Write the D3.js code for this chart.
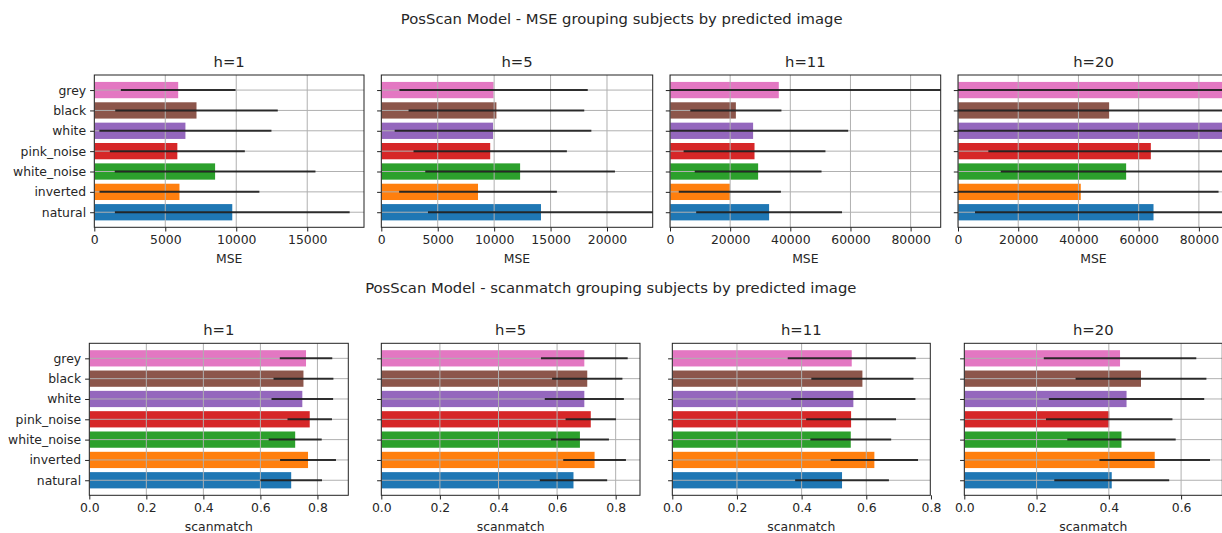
<!DOCTYPE html>
<html>
<head>
<meta charset="utf-8">
<script src="https://cdn.jsdelivr.net/npm/d3@7"></script>
<style>
  html, body { margin: 0; padding: 0; background: #fff; overflow: hidden; }
  svg { display: block; }
  text { font-family: "DejaVu Sans", sans-serif; fill: #262626; }
</style>
</head>
<body>
<svg id="chart" width="1222" height="533"></svg>
<script>
// Stimulus categories, bottom to top
const categories = ["natural", "inverted", "white_noise", "pink_noise", "white", "black", "grey"];
const categoryColors = ["#1f77b4", "#ff7f0e", "#2ca02c", "#d62728", "#9467bd", "#8c564b", "#e377c2"];
const horizons = ["h=1", "h=5", "h=11", "h=20"];

// MSE: mean and standard deviation per category
const mseMeanH1  = [9720, 6000, 8510, 5850, 6420, 7200, 5910];
const mseStdH1   = [8270, 5630, 7070, 4755, 6060, 5725, 4040];
const mseMeanH5  = [14150, 8570, 12300, 9650, 9900, 10200, 9950];
const mseStdH5   = [10015, 6990, 8405, 6795, 8715, 7785, 8345];
const mseMeanH11 = [32950, 19900, 29300, 28100, 27630, 21900, 36170];
const mseStdH11  = [24245, 16980, 21080, 23580, 31620, 15150, 56000];
const mseMeanH20 = [64930, 40770, 55840, 64040, 93000, 50190, 92000];
const mseStdH20  = [59280, 45760, 41660, 53960, 98000, 55000, 97000];

// ScanMatch: mean and standard deviation per category
const smMeanH1  = [0.708, 0.767, 0.722, 0.773, 0.747, 0.751, 0.760];
const smStdH1   = [0.108, 0.098, 0.093, 0.078, 0.108, 0.105, 0.092];
const smMeanH5  = [0.656, 0.728, 0.678, 0.715, 0.693, 0.703, 0.693];
const smStdH5   = [0.115, 0.107, 0.099, 0.086, 0.135, 0.120, 0.148];
const smMeanH11 = [0.525, 0.625, 0.552, 0.553, 0.560, 0.588, 0.555];
const smStdH11  = [0.145, 0.135, 0.125, 0.139, 0.192, 0.158, 0.198];
const smMeanH20 = [0.408, 0.527, 0.435, 0.401, 0.449, 0.489, 0.431];
const smStdH20  = [0.159, 0.153, 0.150, 0.175, 0.215, 0.181, 0.211];

// Axis limits and ticks
const mseXMax = [19000, 24050, 90000, 90000];
const mseTicks = [
  [0, 5000, 10000, 15000],
  [0, 5000, 10000, 15000, 20000],
  [0, 20000, 40000, 60000, 80000],
  [0, 20000, 40000, 60000, 80000]
];
const smTicks = [
  [0, 0.2, 0.4, 0.6, 0.8],
  [0, 0.2, 0.4, 0.6, 0.8],
  [0, 0.2, 0.4, 0.6, 0.8],
  [0, 0.2, 0.4, 0.6]
];

const svg = d3.select("#chart");
const TICK_FONT = "12.4px";
const TITLE_FONT = "14.8px";

const rows = [
  {
    title: "PosScan Model - MSE grouping subjects by predicted image",
    titleX: 621.7, titleY: 24.3,
    xlabel: "MSE",
    means: [mseMeanH1, mseMeanH5, mseMeanH11, mseMeanH20],
    stds: [mseStdH1, mseStdH5, mseStdH11, mseStdH20],
    xmax: mseXMax,
    ticks: mseTicks,
    fmt: d3.format("d"),
    top: 75, height: 152.3,
    lefts: [94.3, 381.3, 670, 958],
    widths: [269.7, 271.4, 270.7, 271]
  },
  {
    title: "PosScan Model - scanmatch grouping subjects by predicted image",
    titleX: 610.8, titleY: 292.5,
    xlabel: "scanmatch",
    means: [smMeanH1, smMeanH5, smMeanH11, smMeanH20],
    stds: [smStdH1, smStdH5, smStdH11, smStdH20],
    xmax: null,
    ticks: smTicks,
    fmt: d3.format(".1f"),
    top: 343.3, height: 152,
    lefts: [89.3, 381.3, 672.3, 964.3],
    widths: [259, 258.7, 258, 258]
  }
];

const defs = svg.append("defs");

rows.forEach((row, r) => {
  svg.append("text")
    .attr("x", row.titleX).attr("y", row.titleY)
    .attr("text-anchor", "middle")
    .attr("font-size", TITLE_FONT)
    .text(row.title);

  horizons.forEach((hz, k) => {
    const means = row.means[k];
    const stds = row.stds[k];
    const w = row.widths[k], h = row.height;
    // autoscaled limits keep a 5% margin past the longest error bar
    const xMax = row.xmax ? row.xmax[k] : d3.max(means, (m, i) => m + stds[i]) * 1.05;
    const x = d3.scaleLinear().domain([0, xMax]).range([0, w]);
    const y = d3.scaleLinear().domain([-0.74, categories.length - 1 + 0.74]).range([h, 0]);

    const clipId = `clip-${r}-${k}`;
    defs.append("clipPath").attr("id", clipId)
      .append("rect").attr("x", 0).attr("y", 0).attr("width", w).attr("height", h);

    const g = svg.append("g").attr("transform", `translate(${row.lefts[k]},${row.top})`);
    const plot = g.append("g").attr("clip-path", `url(#${clipId})`);

    // bars
    plot.selectAll("rect.bar").data(categories).join("rect")
      .attr("class", "bar")
      .attr("x", x(0))
      .attr("y", (d, i) => y(i + 0.4))
      .attr("width", (d, i) => x(means[i]) - x(0))
      .attr("height", (d, i) => y(i - 0.4) - y(i + 0.4))
      .attr("fill", (d, i) => categoryColors[i]);

    // grid lines sit above the bars and below the error bars
    const grid = plot.append("g").attr("stroke", "#b0b0b0").attr("stroke-width", 1);
    grid.selectAll("line.gx").data(row.ticks[k]).join("line")
      .attr("x1", d => x(d)).attr("x2", d => x(d))
      .attr("y1", 0).attr("y2", h);
    grid.selectAll("line.gy").data(categories).join("line")
      .attr("x1", 0).attr("x2", w)
      .attr("y1", (d, i) => y(i)).attr("y2", (d, i) => y(i));

    // error bars (mean ± std)
    plot.selectAll("line.err").data(categories).join("line")
      .attr("class", "err")
      .attr("x1", (d, i) => x(means[i] - stds[i]))
      .attr("x2", (d, i) => x(means[i] + stds[i]))
      .attr("y1", (d, i) => y(i)).attr("y2", (d, i) => y(i))
      .attr("stroke", "#111").attr("stroke-opacity", 0.85)
      .attr("stroke-width", 2);

    // frame
    g.append("rect").attr("x", 0).attr("y", 0).attr("width", w).attr("height", h)
      .attr("fill", "none").attr("stroke", "#222").attr("stroke-width", 1);

    // x axis
    const xAxis = g.append("g").attr("transform", `translate(0,${h})`)
      .call(d3.axisBottom(x).tickValues(row.ticks[k]).tickFormat(row.fmt)
        .tickSize(4.2).tickPadding(4));
    xAxis.select(".domain").remove();
    xAxis.selectAll(".tick line").attr("stroke", "#222");
    xAxis.selectAll("text").attr("font-size", TICK_FONT).attr("font-family", "DejaVu Sans").attr("fill", "#262626");

    // y axis: labels only on the first panel of each row
    const yAxis = g.append("g")
      .call(d3.axisLeft(y).tickValues(d3.range(categories.length))
        .tickFormat(k === 0 ? (i => categories[i]) : () => "")
        .tickSize(4.2).tickPadding(4));
    yAxis.select(".domain").remove();
    yAxis.selectAll(".tick line").attr("stroke", "#222");
    yAxis.selectAll("text").attr("font-size", TICK_FONT).attr("font-family", "DejaVu Sans").attr("fill", "#262626");

    // panel title and x label
    g.append("text").attr("x", w / 2).attr("y", -8)
      .attr("text-anchor", "middle").attr("font-size", TITLE_FONT).text(hz);
    g.append("text").attr("x", w / 2).attr("y", h + 35.4)
      .attr("text-anchor", "middle").attr("font-size", TICK_FONT).text(row.xlabel);
  });
});
</script>
</body>
</html>
